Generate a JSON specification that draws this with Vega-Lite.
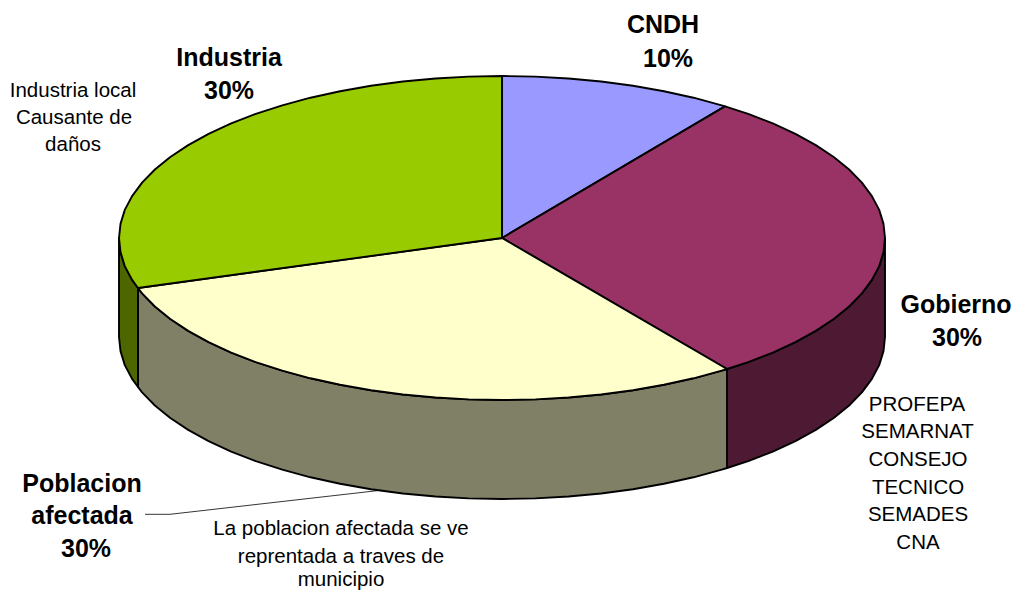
{"$schema":"https://vega.github.io/schema/vega-lite/v6.json","autosize":{"type":"none"},"width":1016,"height":591,"padding":0,"background":"white","view":{"stroke":null},
"datasets":{
"shapes":[
{"s":"lado gobierno","x":885,"y":238},{"s":"lado gobierno","x":883.5,"y":252.1},{"s":"lado gobierno","x":879.2,"y":266.1},{"s":"lado gobierno","x":871.9,"y":279.9},{"s":"lado gobierno","x":861.9,"y":293.4},{"s":"lado gobierno","x":849.1,"y":306.5},{"s":"lado gobierno","x":833.7,"y":319},{"s":"lado gobierno","x":815.8,"y":330.9},{"s":"lado gobierno","x":795.4,"y":342.1},{"s":"lado gobierno","x":772.8,"y":352.6},{"s":"lado gobierno","x":748.2,"y":362.1},{"s":"lado gobierno","x":727,"y":369},{"s":"lado gobierno","x":727,"y":468},{"s":"lado gobierno","x":748.2,"y":461.1},{"s":"lado gobierno","x":772.8,"y":451.6},{"s":"lado gobierno","x":795.4,"y":441.1},{"s":"lado gobierno","x":815.8,"y":429.9},{"s":"lado gobierno","x":833.7,"y":418},{"s":"lado gobierno","x":849.1,"y":405.5},{"s":"lado gobierno","x":861.9,"y":392.4},{"s":"lado gobierno","x":871.9,"y":378.9},{"s":"lado gobierno","x":879.2,"y":365.1},{"s":"lado gobierno","x":883.5,"y":351.1},{"s":"lado gobierno","x":885,"y":337},{"s":"lado gobierno","x":885,"y":238},
{"s":"lado poblacion","x":727,"y":369},{"s":"lado poblacion","x":721.7,"y":370.7},{"s":"lado poblacion","x":693.5,"y":378.3},{"s":"lado poblacion","x":663.9,"y":384.8},{"s":"lado poblacion","x":633,"y":390.2},{"s":"lado poblacion","x":601.1,"y":394.5},{"s":"lado poblacion","x":568.5,"y":397.5},{"s":"lado poblacion","x":535.4,"y":399.4},{"s":"lado poblacion","x":502,"y":400},{"s":"lado poblacion","x":468.6,"y":399.4},{"s":"lado poblacion","x":435.5,"y":397.5},{"s":"lado poblacion","x":402.9,"y":394.5},{"s":"lado poblacion","x":371,"y":390.2},{"s":"lado poblacion","x":340.1,"y":384.8},{"s":"lado poblacion","x":310.5,"y":378.3},{"s":"lado poblacion","x":282.3,"y":370.7},{"s":"lado poblacion","x":255.8,"y":362.1},{"s":"lado poblacion","x":231.2,"y":352.6},{"s":"lado poblacion","x":208.6,"y":342.1},{"s":"lado poblacion","x":188.2,"y":330.9},{"s":"lado poblacion","x":170.3,"y":319},{"s":"lado poblacion","x":154.9,"y":306.5},{"s":"lado poblacion","x":142.1,"y":293.4},{"s":"lado poblacion","x":138,"y":288},{"s":"lado poblacion","x":138,"y":387},{"s":"lado poblacion","x":142.1,"y":392.4},{"s":"lado poblacion","x":154.9,"y":405.5},{"s":"lado poblacion","x":170.3,"y":418},{"s":"lado poblacion","x":188.2,"y":429.9},{"s":"lado poblacion","x":208.6,"y":441.1},{"s":"lado poblacion","x":231.2,"y":451.6},{"s":"lado poblacion","x":255.8,"y":461.1},{"s":"lado poblacion","x":282.3,"y":469.7},{"s":"lado poblacion","x":310.5,"y":477.3},{"s":"lado poblacion","x":340.1,"y":483.8},{"s":"lado poblacion","x":371,"y":489.2},{"s":"lado poblacion","x":402.9,"y":493.5},{"s":"lado poblacion","x":435.5,"y":496.5},{"s":"lado poblacion","x":468.6,"y":498.4},{"s":"lado poblacion","x":502,"y":499},{"s":"lado poblacion","x":535.4,"y":498.4},{"s":"lado poblacion","x":568.5,"y":496.5},{"s":"lado poblacion","x":601.1,"y":493.5},{"s":"lado poblacion","x":633,"y":489.2},{"s":"lado poblacion","x":663.9,"y":483.8},{"s":"lado poblacion","x":693.5,"y":477.3},{"s":"lado poblacion","x":721.7,"y":469.7},{"s":"lado poblacion","x":727,"y":468},{"s":"lado poblacion","x":727,"y":369},
{"s":"lado industria","x":138,"y":288},{"s":"lado industria","x":132.1,"y":279.9},{"s":"lado industria","x":124.8,"y":266.1},{"s":"lado industria","x":120.5,"y":252.1},{"s":"lado industria","x":119,"y":238},{"s":"lado industria","x":119,"y":337},{"s":"lado industria","x":120.5,"y":351.1},{"s":"lado industria","x":124.8,"y":365.1},{"s":"lado industria","x":132.1,"y":378.9},{"s":"lado industria","x":138,"y":387},{"s":"lado industria","x":138,"y":288},
{"s":"CNDH","x":502,"y":238},{"s":"CNDH","x":502,"y":76},{"s":"CNDH","x":535.4,"y":76.6},{"s":"CNDH","x":568.5,"y":78.5},{"s":"CNDH","x":601.1,"y":81.5},{"s":"CNDH","x":633,"y":85.8},{"s":"CNDH","x":663.9,"y":91.2},{"s":"CNDH","x":693.5,"y":97.7},{"s":"CNDH","x":721.7,"y":105.3},{"s":"CNDH","x":725,"y":106.4},{"s":"CNDH","x":502,"y":238},
{"s":"Gobierno","x":502,"y":238},{"s":"Gobierno","x":725,"y":106.4},{"s":"Gobierno","x":748.2,"y":113.9},{"s":"Gobierno","x":772.8,"y":123.4},{"s":"Gobierno","x":795.4,"y":133.9},{"s":"Gobierno","x":815.8,"y":145.1},{"s":"Gobierno","x":833.7,"y":157},{"s":"Gobierno","x":849.1,"y":169.5},{"s":"Gobierno","x":861.9,"y":182.6},{"s":"Gobierno","x":871.9,"y":196.1},{"s":"Gobierno","x":879.2,"y":209.9},{"s":"Gobierno","x":883.5,"y":223.9},{"s":"Gobierno","x":885,"y":238},{"s":"Gobierno","x":883.5,"y":252.1},{"s":"Gobierno","x":879.2,"y":266.1},{"s":"Gobierno","x":871.9,"y":279.9},{"s":"Gobierno","x":861.9,"y":293.4},{"s":"Gobierno","x":849.1,"y":306.5},{"s":"Gobierno","x":833.7,"y":319},{"s":"Gobierno","x":815.8,"y":330.9},{"s":"Gobierno","x":795.4,"y":342.1},{"s":"Gobierno","x":772.8,"y":352.6},{"s":"Gobierno","x":748.2,"y":362.1},{"s":"Gobierno","x":727,"y":369},{"s":"Gobierno","x":502,"y":238},
{"s":"Poblacion afectada","x":502,"y":238},{"s":"Poblacion afectada","x":727,"y":369},{"s":"Poblacion afectada","x":721.7,"y":370.7},{"s":"Poblacion afectada","x":693.5,"y":378.3},{"s":"Poblacion afectada","x":663.9,"y":384.8},{"s":"Poblacion afectada","x":633,"y":390.2},{"s":"Poblacion afectada","x":601.1,"y":394.5},{"s":"Poblacion afectada","x":568.5,"y":397.5},{"s":"Poblacion afectada","x":535.4,"y":399.4},{"s":"Poblacion afectada","x":502,"y":400},{"s":"Poblacion afectada","x":468.6,"y":399.4},{"s":"Poblacion afectada","x":435.5,"y":397.5},{"s":"Poblacion afectada","x":402.9,"y":394.5},{"s":"Poblacion afectada","x":371,"y":390.2},{"s":"Poblacion afectada","x":340.1,"y":384.8},{"s":"Poblacion afectada","x":310.5,"y":378.3},{"s":"Poblacion afectada","x":282.3,"y":370.7},{"s":"Poblacion afectada","x":255.8,"y":362.1},{"s":"Poblacion afectada","x":231.2,"y":352.6},{"s":"Poblacion afectada","x":208.6,"y":342.1},{"s":"Poblacion afectada","x":188.2,"y":330.9},{"s":"Poblacion afectada","x":170.3,"y":319},{"s":"Poblacion afectada","x":154.9,"y":306.5},{"s":"Poblacion afectada","x":142.1,"y":293.4},{"s":"Poblacion afectada","x":138,"y":288},{"s":"Poblacion afectada","x":502,"y":238},
{"s":"Industria","x":502,"y":238},{"s":"Industria","x":138,"y":288},{"s":"Industria","x":132.1,"y":279.9},{"s":"Industria","x":124.8,"y":266.1},{"s":"Industria","x":120.5,"y":252.1},{"s":"Industria","x":119,"y":238},{"s":"Industria","x":120.5,"y":223.9},{"s":"Industria","x":124.8,"y":209.9},{"s":"Industria","x":132.1,"y":196.1},{"s":"Industria","x":142.1,"y":182.6},{"s":"Industria","x":154.9,"y":169.5},{"s":"Industria","x":170.3,"y":157},{"s":"Industria","x":188.2,"y":145.1},{"s":"Industria","x":208.6,"y":133.9},{"s":"Industria","x":231.2,"y":123.4},{"s":"Industria","x":255.8,"y":113.9},{"s":"Industria","x":282.3,"y":105.3},{"s":"Industria","x":310.5,"y":97.7},{"s":"Industria","x":340.1,"y":91.2},{"s":"Industria","x":371,"y":85.8},{"s":"Industria","x":402.9,"y":81.5},{"s":"Industria","x":435.5,"y":78.5},{"s":"Industria","x":468.6,"y":76.6},{"s":"Industria","x":502,"y":76},{"s":"Industria","x":502,"y":238}
],
"leader":[{"x":145,"y":514.3},{"x":170,"y":514.3},{"x":377,"y":490.7}],
"bold":[
{"t":"CNDH","x":663,"y":25},{"t":"10%","x":668,"y":59},
{"t":"Industria","x":229,"y":58},{"t":"30%","x":229,"y":91},
{"t":"Gobierno","x":956,"y":305},{"t":"30%","x":957,"y":338},
{"t":"Poblacion","x":82,"y":484},{"t":"afectada","x":82,"y":516},{"t":"30%","x":86,"y":549}
],
"notes":[
{"t":"Industria local","x":73,"y":91},{"t":"Causante de","x":74,"y":118},{"t":"daños","x":73,"y":145},
{"t":"PROFEPA","x":917,"y":405},{"t":"SEMARNAT","x":917.5,"y":432},{"t":"CONSEJO","x":918,"y":460},{"t":"TECNICO","x":918,"y":488},{"t":"SEMADES","x":918,"y":515},{"t":"CNA","x":918,"y":543},
{"t":"La poblacion afectada se ve","x":341,"y":529},{"t":"reprentada a traves de","x":341,"y":557},{"t":"municipio","x":341,"y":580}
]},
"encoding":{
"x":{"field":"x","type":"quantitative","scale":{"domain":[0,1016],"nice":false,"zero":false},"axis":null},
"y":{"field":"y","type":"quantitative","scale":{"domain":[591,0],"nice":false,"zero":false},"axis":null}
},
"layer":[
{"data":{"name":"shapes"},"mark":{"type":"line","stroke":"black","strokeWidth":1.9,"strokeJoin":"round","clip":false},
"encoding":{"order":{"value":null},"detail":{"field":"s"},"fill":{"field":"s","type":"nominal","legend":null,"scale":{"domain":["lado gobierno","lado poblacion","lado industria","CNDH","Gobierno","Poblacion afectada","Industria"],"range":["#4D1933","#808066","#4D6600","#9999FF","#993366","#FFFFCC","#99CC00"]}}}},
{"data":{"name":"leader"},"mark":{"type":"line","stroke":"black","strokeWidth":0.8},"encoding":{"order":{"value":null}}},
{"data":{"name":"bold"},"mark":{"type":"text","font":"Liberation Sans","fontWeight":"bold","fontSize":25,"align":"center","baseline":"middle","fill":"black"},"encoding":{"text":{"field":"t"}}},
{"data":{"name":"notes"},"mark":{"type":"text","font":"Liberation Sans","fontSize":20.5,"align":"center","baseline":"middle","fill":"black"},"encoding":{"text":{"field":"t"}}}
]}
